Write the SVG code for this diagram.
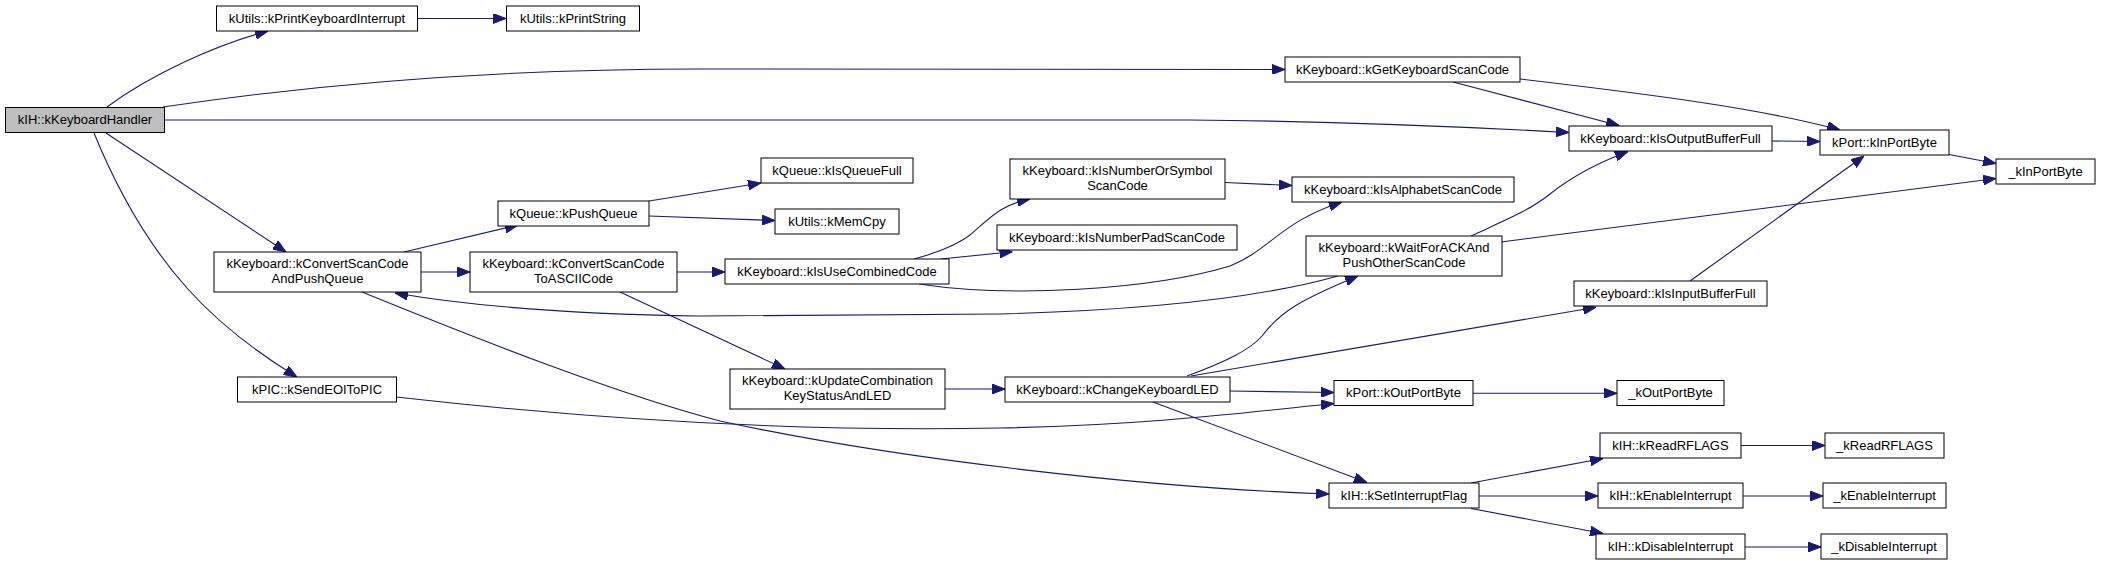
<svg xmlns="http://www.w3.org/2000/svg" width="2107" height="565" viewBox="0 0 2107 565">
<defs>
<marker id="arr" viewBox="0 0 13 10" refX="13" refY="5" markerWidth="13" markerHeight="10" markerUnits="userSpaceOnUse" orient="auto">
<path d="M0,0 L13,5 L0,10 z" fill="#191970" stroke="#191970" stroke-width="1"/>
</marker>
</defs>
<style>
.n rect{fill:#ffffff;stroke:#000000;stroke-width:1}
.n.root rect{fill:#bfbfbf}
.n text{font-family:"Liberation Sans",Helvetica,Arial,sans-serif;font-size:13px;text-anchor:middle;fill:#000000}
.e path{fill:none;stroke:#191970;stroke-width:1.1;marker-end:url(#arr)}
</style>
<rect width="2107" height="565" fill="#ffffff"/>
<g class="e" id="edges">
<path d="M107,107 C150,75 215,45 268,31"/>
<path d="M418,18.5 L506,18.5"/>
<path d="M163,107 C330,82 500,69 700,69 L1285,69.5"/>
<path d="M164,120 L1190,120 C1320,121 1450,126 1569,132.5"/>
<path d="M1453,82 L1619,125.5"/>
<path d="M1520,79 C1640,93 1760,108 1840,130"/>
<path d="M1772,141 L1820,141.5"/>
<path d="M1949,154.5 L1996,163.5"/>
<path d="M1501,242 L1996,178.5"/>
<path d="M1471,236 C1510,218 1530,210 1550,194 C1575,174 1600,162 1628,151.5"/>
<path d="M1690,281 L1864,156"/>
<path d="M106,133 L286,252"/>
<path d="M94,133 C150,270 220,330 297,377"/>
<path d="M404,252 L518,225"/>
<path d="M421,272 L470,272"/>
<path d="M362,292 C480,340 620,395 720,421 C900,460 1150,488 1329,494"/>
<path d="M396,397 C600,420 800,432 1000,428 C1150,425 1250,412 1334,403.5"/>
<path d="M649,201 L761,183"/>
<path d="M649,216 L775,220.5"/>
<path d="M677,272 L725,272"/>
<path d="M620,292 L785,369"/>
<path d="M914,259 C940,252 958,244 970,235 C990,218 1000,205 1030,199"/>
<path d="M941,259 L1012.5,251.7"/>
<path d="M919,284 C1010,298 1150,290 1230,266 C1270,250 1280,222 1342,202"/>
<path d="M1225,182.5 L1292,185.5"/>
<path d="M1338,276 C1260,298 1150,310 1000,314 L700,316 C560,314 470,306 395,293"/>
<path d="M945,389 L1005,389"/>
<path d="M1187,376 C1225,362 1250,350 1262,336 C1280,312 1300,300 1358,276"/>
<path d="M1191,376 L1596,307.3"/>
<path d="M1230,391 L1334,392.5"/>
<path d="M1153,402 L1367,482.5"/>
<path d="M1473,393.3 L1617,393.3"/>
<path d="M1471,483 L1603,458.5"/>
<path d="M1479,496 L1598,496"/>
<path d="M1471,508.5 L1603,533.5"/>
<path d="M1741,445.5 L1825,445.5"/>
<path d="M1743,496 L1823,496"/>
<path d="M1745,547 L1821,547"/>
</g>
<g class="n root" id="kKeyboardHandler"><rect x="5.5" y="107.5" width="159" height="25"/><text x="85" y="124">kIH::kKeyboardHandler</text></g>
<g class="n" id="kPrintKeyboardInterrupt"><rect x="216.5" y="6" width="201" height="25"/><text x="317" y="22.5">kUtils::kPrintKeyboardInterrupt</text></g>
<g class="n" id="kPrintString"><rect x="506.5" y="6" width="133" height="25"/><text x="573" y="22.5">kUtils::kPrintString</text></g>
<g class="n" id="kPushQueue"><rect x="498" y="201" width="151" height="25"/><text x="573.5" y="217.5">kQueue::kPushQueue</text></g>
<g class="n" id="kConvertScanCodeAndPushQueue"><rect x="214" y="252" width="207" height="40"/><text x="317.5" y="268">kKeyboard::kConvertScanCode</text><text x="317.5" y="283">AndPushQueue</text></g>
<g class="n" id="kConvertScanCodeToASCIICode"><rect x="470" y="252" width="207" height="40"/><text x="573.5" y="268">kKeyboard::kConvertScanCode</text><text x="573.5" y="283">ToASCIICode</text></g>
<g class="n" id="kIsQueueFull"><rect x="761" y="158" width="152" height="25"/><text x="837" y="174.5">kQueue::kIsQueueFull</text></g>
<g class="n" id="kMemCpy"><rect x="775" y="209" width="124" height="25"/><text x="837" y="225.5">kUtils::kMemCpy</text></g>
<g class="n" id="kIsNumberOrSymbolScanCode"><rect x="1010" y="159" width="215" height="40"/><text x="1117.5" y="175">kKeyboard::kIsNumberOrSymbol</text><text x="1117.5" y="190">ScanCode</text></g>
<g class="n" id="kIsNumberPadScanCode"><rect x="997" y="225" width="240" height="25"/><text x="1117" y="241.5">kKeyboard::kIsNumberPadScanCode</text></g>
<g class="n" id="kIsUseCombinedCode"><rect x="725" y="259" width="224" height="25"/><text x="837" y="275.5">kKeyboard::kIsUseCombinedCode</text></g>
<g class="n" id="kGetKeyboardScanCode"><rect x="1285" y="57" width="235" height="25"/><text x="1402.5" y="73.5">kKeyboard::kGetKeyboardScanCode</text></g>
<g class="n" id="kIsAlphabetScanCode"><rect x="1292" y="177" width="222" height="25"/><text x="1403" y="193.5">kKeyboard::kIsAlphabetScanCode</text></g>
<g class="n" id="kWaitForACKAndPushOtherScanCode"><rect x="1306" y="236" width="196" height="40"/><text x="1404" y="252">kKeyboard::kWaitForACKAnd</text><text x="1404" y="267">PushOtherScanCode</text></g>
<g class="n" id="kIsOutputBufferFull"><rect x="1569" y="126" width="203" height="25"/><text x="1670.5" y="142.5">kKeyboard::kIsOutputBufferFull</text></g>
<g class="n" id="kInPortByte"><rect x="1820" y="130" width="129" height="25"/><text x="1884.5" y="146.5">kPort::kInPortByte</text></g>
<g class="n" id="_kInPortByte"><rect x="1996" y="159" width="99" height="25"/><text x="2045.5" y="175.5">_kInPortByte</text></g>
<g class="n" id="kIsInputBufferFull"><rect x="1574" y="281" width="193" height="25"/><text x="1670.5" y="297.5">kKeyboard::kIsInputBufferFull</text></g>
<g class="n" id="kUpdateCombinationKeyStatusAndLED"><rect x="730" y="369" width="215" height="40"/><text x="837.5" y="385">kKeyboard::kUpdateCombination</text><text x="837.5" y="400">KeyStatusAndLED</text></g>
<g class="n" id="kChangeKeyboardLED"><rect x="1005" y="377" width="225" height="25"/><text x="1117.5" y="393.5">kKeyboard::kChangeKeyboardLED</text></g>
<g class="n" id="kOutPortByte"><rect x="1334" y="380.5" width="139" height="25"/><text x="1403.5" y="397">kPort::kOutPortByte</text></g>
<g class="n" id="_kOutPortByte"><rect x="1617" y="380.5" width="107" height="25"/><text x="1670.5" y="397">_kOutPortByte</text></g>
<g class="n" id="kSendEOIToPIC"><rect x="237.5" y="377" width="159" height="25"/><text x="317" y="393.5">kPIC::kSendEOIToPIC</text></g>
<g class="n" id="kSetInterruptFlag"><rect x="1329" y="483" width="150" height="25"/><text x="1404" y="499.5">kIH::kSetInterruptFlag</text></g>
<g class="n" id="kReadRFLAGS"><rect x="1600" y="433" width="141" height="25"/><text x="1670.5" y="449.5">kIH::kReadRFLAGS</text></g>
<g class="n" id="_kReadRFLAGS"><rect x="1825" y="433" width="119" height="25"/><text x="1884.5" y="449.5">_kReadRFLAGS</text></g>
<g class="n" id="kEnableInterrupt"><rect x="1598" y="483" width="145" height="25"/><text x="1670.5" y="499.5">kIH::kEnableInterrupt</text></g>
<g class="n" id="_kEnableInterrupt"><rect x="1823" y="483" width="123" height="25"/><text x="1884.5" y="499.5">_kEnableInterrupt</text></g>
<g class="n" id="kDisableInterrupt"><rect x="1596" y="534" width="149" height="25"/><text x="1670.5" y="550.5">kIH::kDisableInterrupt</text></g>
<g class="n" id="_kDisableInterrupt"><rect x="1821" y="534" width="126" height="25"/><text x="1884" y="550.5">_kDisableInterrupt</text></g>
</svg>
